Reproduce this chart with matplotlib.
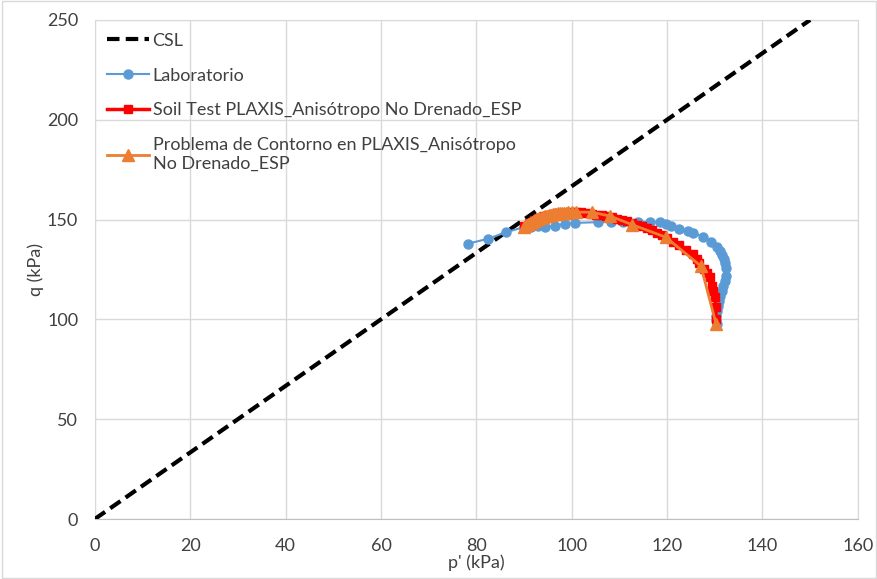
import matplotlib.pyplot as plt
import numpy as np

# CSL line
csl_p = [0, 150]
csl_q = [0, 250]

# Laboratorio
lab_p = [78.2, 82.5, 86.3, 90.0, 91.5, 93.0, 94.3, 96.4, 98.5, 100.6, 105.5, 108.3,
         110.7, 114.0, 116.4, 118.5, 119.8, 120.9, 122.6, 124.4, 125.4, 127.5, 129.3,
         130.4, 131.0, 131.5, 131.9, 132.2, 132.3, 132.3, 132.1, 131.8, 131.5, 131.2,
         130.9, 130.7, 130.5, 130.3, 130.3, 130.4]
lab_q = [137.9, 140.4, 143.7, 146.2, 146.5, 146.6, 146.3, 147.0, 147.8, 148.3, 148.7, 148.8,
         148.8, 148.9, 148.8, 148.8, 148.0, 147.0, 145.3, 144.5, 143.3, 141.5, 139.0,
         136.5, 134.0, 132.0, 130.0, 128.0, 125.8, 121.7, 119.0, 116.7, 114.0, 111.7,
         109.0, 106.7, 104.0, 101.7, 99.5, 97.5]

# Soil Test PLAXIS
soil_p = [90.0, 91.0, 92.0, 93.0, 94.0, 95.0, 96.0, 97.0, 98.0, 99.0, 100.0, 101.0,
          102.0, 103.1, 104.2, 105.2, 106.3, 107.3, 108.4, 109.4, 110.5, 111.5, 112.6,
          113.6, 114.7, 115.7, 116.8, 117.8, 118.9, 119.9, 121.2, 122.6, 124.0, 125.4,
          126.3, 126.8, 127.8, 128.4, 128.9, 129.4, 129.7, 130.0, 130.2, 130.3]
soil_q = [147.0, 148.5, 149.8, 150.8, 151.6, 152.3, 152.8, 153.2, 153.4, 153.5, 153.6, 153.7,
          153.6, 153.3, 153.0, 152.5, 152.1, 151.7, 151.1, 150.5, 149.9, 149.2, 148.4,
          147.5, 146.7, 145.8, 144.6, 143.3, 142.1, 140.8, 139.0, 137.5, 135.0, 132.5,
          130.4, 128.3, 125.0, 123.0, 121.0, 116.7, 114.0, 111.0, 106.0, 100.0]

# Problema de Contorno en PLAXIS
cont_p = [90.0, 90.4, 90.8, 91.2, 91.6, 92.0, 92.4, 92.8, 93.2, 93.6, 94.0, 94.4,
          94.8, 95.2, 95.6, 96.0, 96.4, 96.8, 97.2, 97.6, 98.0, 98.4, 98.8, 99.2,
          100.0, 100.9, 104.2, 108.1, 112.6, 119.7, 127.1, 130.3]
cont_q = [146.5, 147.2, 147.8, 148.4, 148.9, 149.4, 149.9, 150.3, 150.7, 151.0, 151.4, 151.7,
          152.0, 152.2, 152.4, 152.6, 152.8, 153.0, 153.1, 153.2, 153.3, 153.4, 153.5, 153.6,
          153.7, 153.7, 153.7, 151.7, 147.5, 141.2, 126.7, 97.5]

plt.rcParams['font.family'] = ['Lato', 'DejaVu Sans']

fig = plt.figure(figsize=(8.78, 5.79), dpi=100)
ax = fig.add_axes([0.108, 0.1036, 0.869, 0.862])

grid_c = '#D9D9D9'
ax.set_xlim(0, 160)
ax.set_ylim(0, 250)
ax.set_xticks(np.arange(0, 161, 20))
ax.set_yticks(np.arange(0, 251, 50))
ax.grid(True, color=grid_c, linewidth=1)
ax.set_axisbelow(True)
for s in ax.spines.values():
    s.set_color(grid_c)
ax.spines['bottom'].set_color('#BFBFBF')
ax.tick_params(length=0, labelsize=13, colors='#404040')
ax.tick_params(axis='x', pad=14)
ax.tick_params(axis='y', pad=12)

ax.plot(csl_p, csl_q, color='black', linestyle=(0, (3, 1.5)), linewidth=3, label='CSL', zorder=3)
ax.plot(lab_p, lab_q, color='#5B9BD5', marker='o', markersize=6.5, linewidth=1.5,
        label='Laboratorio', zorder=4)
ax.plot(soil_p, soil_q, color='#FF0000', marker='s', markersize=5.5, linewidth=2.5,
        label='Soil Test PLAXIS_Anisótropo No Drenado_ESP', zorder=5)
ax.plot(cont_p, cont_q, color='#ED7D31', marker='^', markersize=8, linewidth=2,
        label='Problema de Contorno en PLAXIS_Anisótropo\nNo Drenado_ESP', zorder=6)

ax.set_xlabel("p' (kPa)", fontsize=13, color='#404040', labelpad=0)
ax.set_ylabel('q (kPa)', fontsize=13, color='#404040', labelpad=2)

leg = ax.legend(loc='upper left', frameon=False, fontsize=13, handlelength=2.3,
                handletextpad=0.2, labelspacing=1.05, borderaxespad=0.3,
                bbox_to_anchor=(0.0, 1.0))
for t in leg.get_texts():
    t.set_color('#404040')

fig.patches.append(plt.Rectangle((0.002, 0.002), 0.996, 0.996, transform=fig.transFigure,
                                 fill=False, edgecolor='#D9D9D9', linewidth=1))

fig.savefig('out.png', dpi=100)
